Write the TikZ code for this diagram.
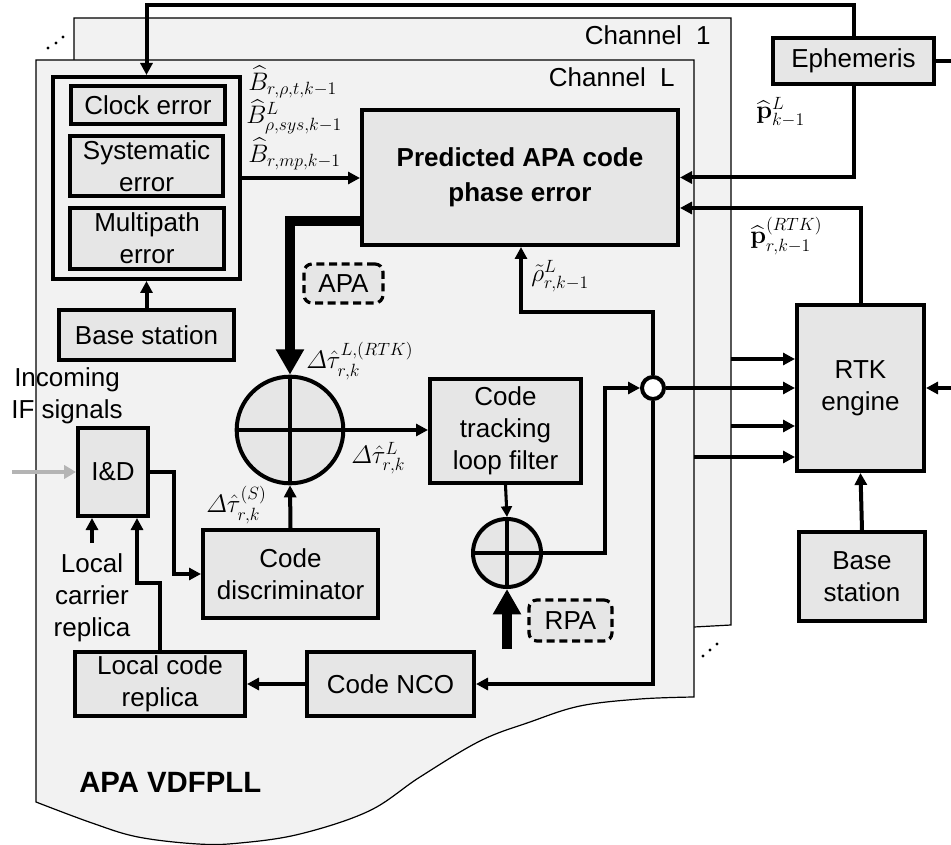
\RequirePackage{fix-cm}
\documentclass[tikz,border=0pt]{standalone}
\usepackage{amsmath}
\usepackage[no-math]{fontspec}
\setmainfont{Liberation Sans}
\usetikzlibrary{arrows.meta,calc}
\definecolor{sheetgray}{HTML}{F2F2F2}
\definecolor{boxgray}{HTML}{E6E6E6}
\definecolor{ingray}{HTML}{B4B4B4}
\begin{document}
\begin{tikzpicture}[x=0.75pt,y=-0.75pt,
  every node/.style={font=\fontsize{19.5}{24}\selectfont},
  box/.style={draw, line width=3pt, fill=boxgray, inner sep=0pt, align=center},
  grp/.style={draw, line width=3pt, fill=sheetgray, inner sep=0pt},
  dbox/.style={draw, line width=2.4pt, dash pattern=on 6pt off 3.5pt, rounded corners=6pt, fill=boxgray, inner sep=0pt, align=center},
  sumc/.style={circle, draw, line width=3pt, fill=boxgray, inner sep=0pt},
  conn/.style={line width=3pt, -{Triangle[length=9pt,width=9pt]}},
  link/.style={line width=3pt},
  bigarrow/.style={line width=7.5pt, -{Triangle[length=19pt,width=20pt]}},
  sheet/.style={draw, line width=0.9pt, fill=sheetgray},
  lbl/.style={font=\fontsize{19}{22}\selectfont, inner sep=0pt, anchor=west},
]
\useasboundingbox (0,0) rectangle (951,845);
\fill[white] (0,0) rectangle (951,845);

% sheets
\filldraw[sheet] (74,18) -- (731,18) -- (731,625) -- (694,627) -- (600,640) -- (74,640) -- cycle;
\filldraw[sheet] (36,60) -- (694,60) -- (694,697) -- plot[smooth, tension=0.6] coordinates {(694,697) (640,699) (580,706) (530,722) (480,741) (420,777) (369,811) (300,834) (240,843) (198,844) (138,837) (92,823) (36,802)} -- cycle;

% dots
\fill (48,48) circle (1.7) (56,43) circle (1.7) (63,37) circle (1.7);
\fill (703,656) circle (1.7) (710,650) circle (1.7) (717,644) circle (1.7);

\node[anchor=east, inner sep=0pt] (ch1) at (711,35) {Channel~~1};
\node[anchor=east, inner sep=0pt] (chL) at (675,77) {Channel~~L};
\node[anchor=west, inner sep=0pt, font=\fontsize{22}{26}\selectfont\bfseries] (vdf) at (79,782) {APA VDFPLL};

% error group
\node[grp, minimum width=140.25pt, minimum height=151.5pt] (errgroup) at (146.5,178) {};
\node[box, minimum width=115.5pt, minimum height=28.5pt] (clock) at (148,105) {Clock error};
\node[box, minimum width=114.75pt, minimum height=45pt] (sys) at (146.5,166) {Systematic\\error};
\node[box, minimum width=115.5pt, minimum height=45.75pt] (multi) at (147,238.5) {Multipath\\error};
\node[box, minimum width=131.25pt, minimum height=37.5pt] (basestL) at (146.5,335) {Base station};

\node[box, minimum width=237pt, minimum height=101.25pt, font=\fontsize{19.5}{26}\selectfont\bfseries] (pred) at (520,177.5) {Predicted APA code\\phase error};
\node[box, minimum width=120.75pt, minimum height=34.5pt] (ephem) at (853.5,61) {Ephemeris};
\node[dbox, minimum width=59.25pt, minimum height=29.25pt] (apa) at (343.5,283.5) {APA};
\node[sumc, minimum size=80pt] (sum1) at (290,430) {};
\draw[line width=3pt] (sum1.north) -- (sum1.south) (sum1.west) -- (sum1.east);
\node[box, minimum width=113.25pt, minimum height=78pt] (filter) at (505.5,431) {Code\\tracking\\loop filter};
\node[box, minimum width=131.25pt, minimum height=66pt] (disc) at (290.5,574) {Code\\discriminator};
\node[box, minimum width=52.5pt, minimum height=66pt] (iad) at (113,472) {I\&D};
\node[box, minimum width=127.5pt, minimum height=48pt] (lcr) at (160,684) {Local code\\replica};
\node[box, minimum width=125.25pt, minimum height=48pt] (nco) at (390.5,684) {Code NCO};
\node[sumc, minimum size=51pt] (sum2) at (507,553) {};
\draw[line width=3pt] (sum2.north) -- (sum2.south) (sum2.west) -- (sum2.east);
\node[dbox, minimum width=62.25pt, minimum height=30.75pt] (rpa) at (570.5,620.5) {RPA};
\node[circle, draw, line width=3pt, fill=white, minimum size=16.5pt, inner sep=0pt] (small) at (653,388) {};
\node[box, minimum width=95.25pt, minimum height=124.5pt] (rtk) at (860.5,388) {RTK\\engine};
\node[box, minimum width=94.5pt, minimum height=66.75pt] (basestR) at (862,576.5) {Base\\station};

\node[align=center, inner sep=0pt] (ifsig) at (67,396) {Incoming\\IF signals};
\node[align=center, inner sep=0pt] (lcarrlbl) at (92,598) {Local\\carrier\\replica};

% coordinates
\coordinate (topy) at (0,5);
\coordinate (py2) at (0,208);
\coordinate (apay) at (0,221);
\coordinate (ephout) at (951,61);
\coordinate (ifin) at (12,472);
\coordinate (lcarr) at (92,543);
\coordinate (jog) at (137,583);
\coordinate (rpain) at (507,649);
\coordinate (j2) at (605,388);
\coordinate (j3) at (521,312);
\coordinate (c1a) at (731,359);
\coordinate (c1b) at (731,426);
\coordinate (cLa) at (694,457);
\coordinate (rtkin) at (951,388);

% connectors
\draw[conn] (ephem.north) -- (ephem.north |- topy) -| (errgroup.north);
\draw[link] (ephem.east) -- (ephout);
\draw[conn] (ephem.south) |- (pred.east);
\draw[conn] (rtk.north) |- (pred.east |- py2);
\draw[conn] (errgroup.east) -- (pred.west |- errgroup.east);
\draw[conn] (basestL.north) -- (errgroup.south);
\draw[bigarrow] (pred.west |- apay) -| (sum1.north);
\draw[conn] (sum1.east) -- (filter.west |- sum1.east);
\draw[conn] (disc.north) -- (sum1.south);
\draw[conn] (iad.east) -- ++(24,0) |- (disc.west);
\draw[line width=3pt, ingray, -{Triangle[length=9pt,width=10pt]}] (ifin) -- (iad.west);
\draw[conn] (lcarr) -- (lcarr |- iad.south);
\draw[conn] (lcr.north) |- (jog) -- (jog |- iad.south);
\draw[conn] (nco.west) -- (lcr.east);
\draw[line width=2.3pt, -{Triangle[length=8pt,width=8pt]}] (filter.south) -- (sum2.north);
\draw[bigarrow] (rpain) -- (sum2.south);
\draw[conn] (sum2.east) -| (j2) -- (small.west);
\draw[conn] (small.north) |- (j3) -- (j3 |- pred.south);
\draw[conn] (small.south) |- (nco.east);
\draw[conn] (small.east) -- (rtk.west);
\draw[conn] (c1a) -- (rtk.west |- c1a);
\draw[conn] (c1b) -- (rtk.west |- c1b);
\draw[conn] (cLa) -- (rtk.west |- cLa);
\draw[conn] (rtkin) -- (rtk.east);
\draw[conn] (basestR.north) -- (rtk.south);

% math labels
\node[lbl] (lB1) at (248,82) {$\widehat{B}_{r,\rho,t,k-1}$};
\node[lbl] (lB2) at (246,117) {$\widehat{B}^{L}_{\rho,sys,k-1}$};
\node[lbl] (lB3) at (248,154) {$\widehat{B}_{r,mp,k-1}$};
\node[lbl] (lp1) at (756,112) {$\widehat{\mathbf{p}}^{L}_{k-1}$};
\node[lbl] (lp2) at (750,236) {$\widehat{\mathbf{p}}^{(RTK)}_{r,k-1}$};
\node[lbl] (lrho) at (531,276) {$\tilde{\rho}^{L}_{r,k-1}$};
\node[lbl] (lt1) at (306,361) {$\varDelta\hat{\tau}^{L,(RTK)}_{r,k}$};
\node[lbl] (lt2) at (351,458) {$\varDelta\hat{\tau}^{L}_{r,k}$};
\node[lbl] (lt3) at (206,505) {$\varDelta\hat{\tau}^{(S)}_{r,k}$};
\end{tikzpicture}
\end{document}
